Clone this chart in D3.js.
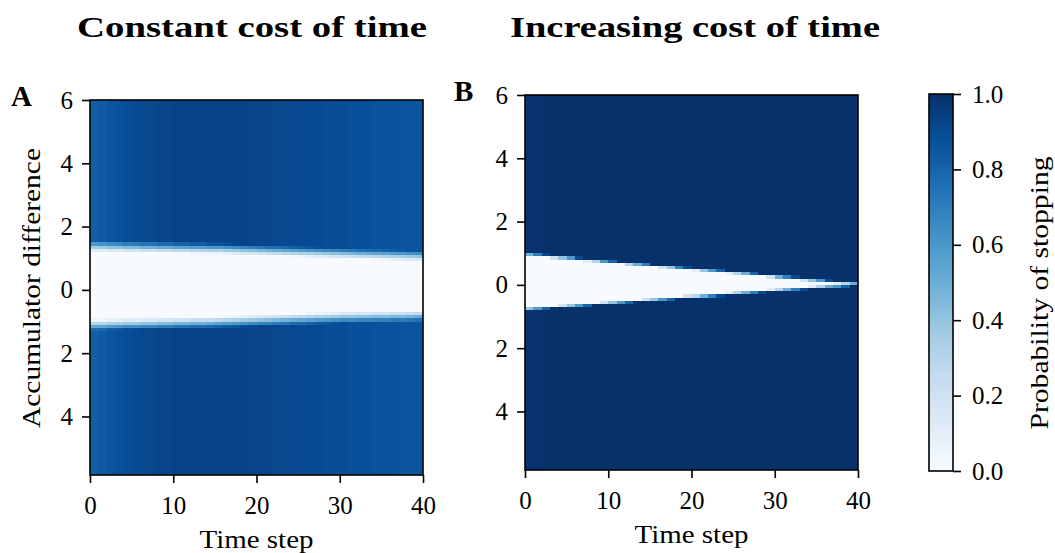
<!DOCTYPE html>
<html>
<head>
<meta charset="utf-8">
<script src="https://cdn.jsdelivr.net/npm/d3@7"></script>
<style>
  body { margin: 0; background: #fff; }
  svg text { font-family: "Liberation Serif", "Times New Roman", Times, serif; fill: #000; }
  rect.cell { shape-rendering: crispEdges; }
</style>
</head>
<body>
<script>
// time steps (one column each) and probability levels
const timeSteps = d3.range(0, 40);

// panel A: constant cost of time
const outsideA = [0.82, 0.84, 0.86, 0.88, 0.89, 0.90, 0.91, 0.91, 0.92, 0.92,
                  0.93, 0.93, 0.93, 0.93, 0.93, 0.93, 0.93, 0.93, 0.93, 0.92,
                  0.92, 0.92, 0.91, 0.91, 0.91, 0.90, 0.90, 0.90, 0.89, 0.89,
                  0.89, 0.88, 0.88, 0.88, 0.87, 0.87, 0.87, 0.86, 0.86, 0.86];
const upperA = [1.37, 1.37, 1.36, 1.36, 1.35, 1.35, 1.34, 1.34, 1.33, 1.33,
                1.32, 1.32, 1.31, 1.31, 1.30, 1.30, 1.29, 1.28, 1.27, 1.26,
                1.25, 1.24, 1.23, 1.22, 1.21, 1.20, 1.19, 1.18, 1.17, 1.16,
                1.15, 1.14, 1.13, 1.12, 1.11, 1.10, 1.09, 1.08, 1.07, 1.06];
const lowerA = [-1.10, -1.10, -1.09, -1.09, -1.08, -1.08, -1.07, -1.07, -1.06, -1.06,
                -1.05, -1.05, -1.04, -1.04, -1.03, -1.02, -1.01, -1.00, -0.99, -0.98,
                -0.97, -0.96, -0.95, -0.94, -0.93, -0.92, -0.91, -0.90, -0.89, -0.88,
                -0.87, -0.87, -0.86, -0.86, -0.85, -0.85, -0.84, -0.84, -0.83, -0.82];

// panel B: increasing cost of time
const outsideB = [0.99, 0.99, 1.00, 1.00, 1.00, 1.00, 1.00, 1.00, 1.00, 1.00,
                  1.00, 1.00, 1.00, 1.00, 1.00, 1.00, 1.00, 1.00, 1.00, 1.00,
                  1.00, 1.00, 1.00, 1.00, 1.00, 1.00, 1.00, 1.00, 1.00, 1.00,
                  1.00, 1.00, 1.00, 1.00, 1.00, 1.00, 1.00, 1.00, 1.00, 1.00];
const upperB = [0.95, 0.93, 0.91, 0.88, 0.86, 0.84, 0.81, 0.79, 0.77, 0.74,
                0.72, 0.70, 0.67, 0.65, 0.63, 0.60, 0.58, 0.56, 0.53, 0.51,
                0.49, 0.46, 0.44, 0.42, 0.39, 0.37, 0.35, 0.32, 0.30, 0.28,
                0.25, 0.23, 0.21, 0.18, 0.16, 0.14, 0.11, 0.09, 0.07, 0.05];
const lowerB = [-0.76, -0.74, -0.72, -0.70, -0.68, -0.66, -0.64, -0.62, -0.60, -0.58,
                -0.56, -0.54, -0.52, -0.50, -0.48, -0.46, -0.44, -0.42, -0.40, -0.38,
                -0.37, -0.35, -0.33, -0.31, -0.29, -0.27, -0.25, -0.23, -0.21, -0.19,
                -0.17, -0.15, -0.13, -0.11, -0.09, -0.07, -0.05, -0.04, -0.02, 0.00];

const xTicks = [0, 10, 20, 30, 40];
const yTicks = [6, 4, 2, 0, -2, -4];
const cbarTicks = [0, 0.2, 0.4, 0.6, 0.8, 1.0];
const yDomain = [-5.85, 6];
const cellH = 0.1;
const serif = '"Liberation Serif", "Times New Roman", Times, serif';

// matplotlib "Blues"
const bluesStops = ["#f7fbff", "#deebf7", "#c6dbef", "#9ecae1", "#6baed6",
                    "#4292c6", "#2171b5", "#08519c", "#08306b"];
const color = d3.scaleLinear()
  .domain(d3.range(9).map(i => i / 8))
  .range(bluesStops)
  .interpolate(d3.interpolateRgb)
  .clamp(true);

const svg = d3.select("body").append("svg")
  .attr("width", 1055)
  .attr("height", 553)
  .attr("font-family", serif);

const yRows = d3.range(0, Math.ceil((6 - yDomain[0]) / cellH));

function drawPanel(opt) {
  const x = d3.scaleLinear().domain([0, 40]).range([opt.left, opt.right]);
  const y = d3.scaleLinear().domain(yDomain).range([opt.bottom, opt.top]);

  const cells = [];
  timeSteps.forEach((t, i) => {
    yRows.forEach(k => {
      const y1 = 6 - k * cellH;
      const y0 = Math.max(yDomain[0], y1 - cellH);
      const yc = (y0 + y1) / 2;
      const a = Math.min(1, Math.max(0, (opt.upper[i] - yc) / opt.soft + 0.5));
      const b = Math.min(1, Math.max(0, (yc - opt.lower[i]) / opt.soft + 0.5));
      const inside = a * b;
      cells.push({ t: t, y0: y0, y1: y1, v: opt.outside[i] * (1 - inside) });
    });
  });

  const clipId = "clip" + opt.letter;
  svg.append("clipPath").attr("id", clipId)
    .append("rect")
    .attr("x", opt.left).attr("y", opt.top)
    .attr("width", opt.right - opt.left).attr("height", opt.bottom - opt.top);

  const g = svg.append("g");
  g.append("g").attr("clip-path", `url(#${clipId})`)
    .selectAll("rect.cell")
    .data(cells)
    .enter()
    .append("rect")
    .attr("class", "cell")
    .attr("x", d => x(d.t))
    .attr("y", d => y(d.y1))
    .attr("width", d => x(d.t + 1) - x(d.t) + 1)
    .attr("height", d => y(d.y0) - y(d.y1) + 1)
    .attr("fill", d => color(d.v));

  // frame
  g.append("rect")
    .attr("x", opt.left)
    .attr("y", opt.top)
    .attr("width", opt.right - opt.left)
    .attr("height", opt.bottom - opt.top)
    .attr("fill", "none")
    .attr("stroke", "#000")
    .attr("stroke-width", 1.6);

  const xAxis = g.append("g")
    .attr("transform", `translate(0,${opt.bottom})`)
    .call(d3.axisBottom(x).tickValues(xTicks).tickSize(8).tickPadding(13));
  const yAxis = g.append("g")
    .attr("transform", `translate(${opt.left},0)`)
    .call(d3.axisLeft(y).tickValues(yTicks).tickFormat(d => Math.abs(d)).tickSize(8).tickPadding(9));
  [xAxis, yAxis].forEach(ax => {
    ax.attr("font-family", serif).attr("font-size", 25);
    ax.select(".domain").remove();
    ax.selectAll("line").attr("stroke", "#000").attr("stroke-width", 1.6);
    ax.selectAll("text").attr("fill", "#000");
  });

  g.append("text")
    .attr("x", (opt.left + opt.right) / 2)
    .attr("y", opt.bottom + 73)
    .attr("text-anchor", "middle")
    .attr("font-size", 25)
    .attr("textLength", 114)
    .attr("lengthAdjust", "spacingAndGlyphs")
    .text("Time step");

  g.append("text")
    .attr("x", opt.titleX)
    .attr("y", 37)
    .attr("font-size", 29)
    .attr("font-weight", "bold")
    .attr("textLength", opt.titleLen)
    .attr("lengthAdjust", "spacingAndGlyphs")
    .text(opt.title);

  g.append("text")
    .attr("x", opt.letterX)
    .attr("y", opt.top + 6)
    .attr("font-size", 29)
    .attr("font-weight", "bold")
    .text(opt.letter);
}

drawPanel({
  left: 90, right: 423, top: 100, bottom: 475,
  outside: outsideA, upper: upperA, lower: lowerA, soft: 0.35,
  title: "Constant cost of time", titleX: 77, titleLen: 350,
  letter: "A", letterX: 11
});
drawPanel({
  left: 525, right: 858, top: 95, bottom: 470,
  outside: outsideB, upper: upperB, lower: lowerB, soft: 0.1,
  title: "Increasing cost of time", titleX: 510, titleLen: 370,
  letter: "B", letterX: 454
});

// y label of panel A
svg.append("text")
  .attr("transform", "translate(40,288) rotate(-90)")
  .attr("text-anchor", "middle")
  .attr("font-size", 25)
  .attr("textLength", 280)
  .attr("lengthAdjust", "spacingAndGlyphs")
  .text("Accumulator difference");

// colorbar
const cb = { left: 929, right: 953, top: 94, bottom: 471 };
const cy = d3.scaleLinear().domain([0, 1]).range([cb.bottom, cb.top]);
const grad = svg.append("defs").append("linearGradient")
  .attr("id", "blues")
  .attr("x1", 0).attr("y1", 1).attr("x2", 0).attr("y2", 0);
grad.selectAll("stop")
  .data(bluesStops)
  .enter()
  .append("stop")
  .attr("offset", (d, i) => i / 8)
  .attr("stop-color", d => d);
svg.append("rect")
  .attr("x", cb.left)
  .attr("y", cb.top)
  .attr("width", cb.right - cb.left)
  .attr("height", cb.bottom - cb.top)
  .attr("fill", "url(#blues)")
  .attr("stroke", "#000")
  .attr("stroke-width", 1.6);
const cAxis = svg.append("g")
  .attr("transform", `translate(${cb.right},0)`)
  .call(d3.axisRight(cy).tickValues(cbarTicks).tickFormat(d3.format(".1f")).tickSize(8).tickPadding(11));
cAxis.attr("font-family", serif).attr("font-size", 25);
cAxis.select(".domain").remove();
cAxis.selectAll("line").attr("stroke", "#000").attr("stroke-width", 1.6);
cAxis.selectAll("text").attr("fill", "#000");

svg.append("text")
  .attr("transform", "translate(1048,293) rotate(-90)")
  .attr("text-anchor", "middle")
  .attr("font-size", 25)
  .attr("textLength", 273)
  .attr("lengthAdjust", "spacingAndGlyphs")
  .text("Probability of stopping");
</script>
</body>
</html>
